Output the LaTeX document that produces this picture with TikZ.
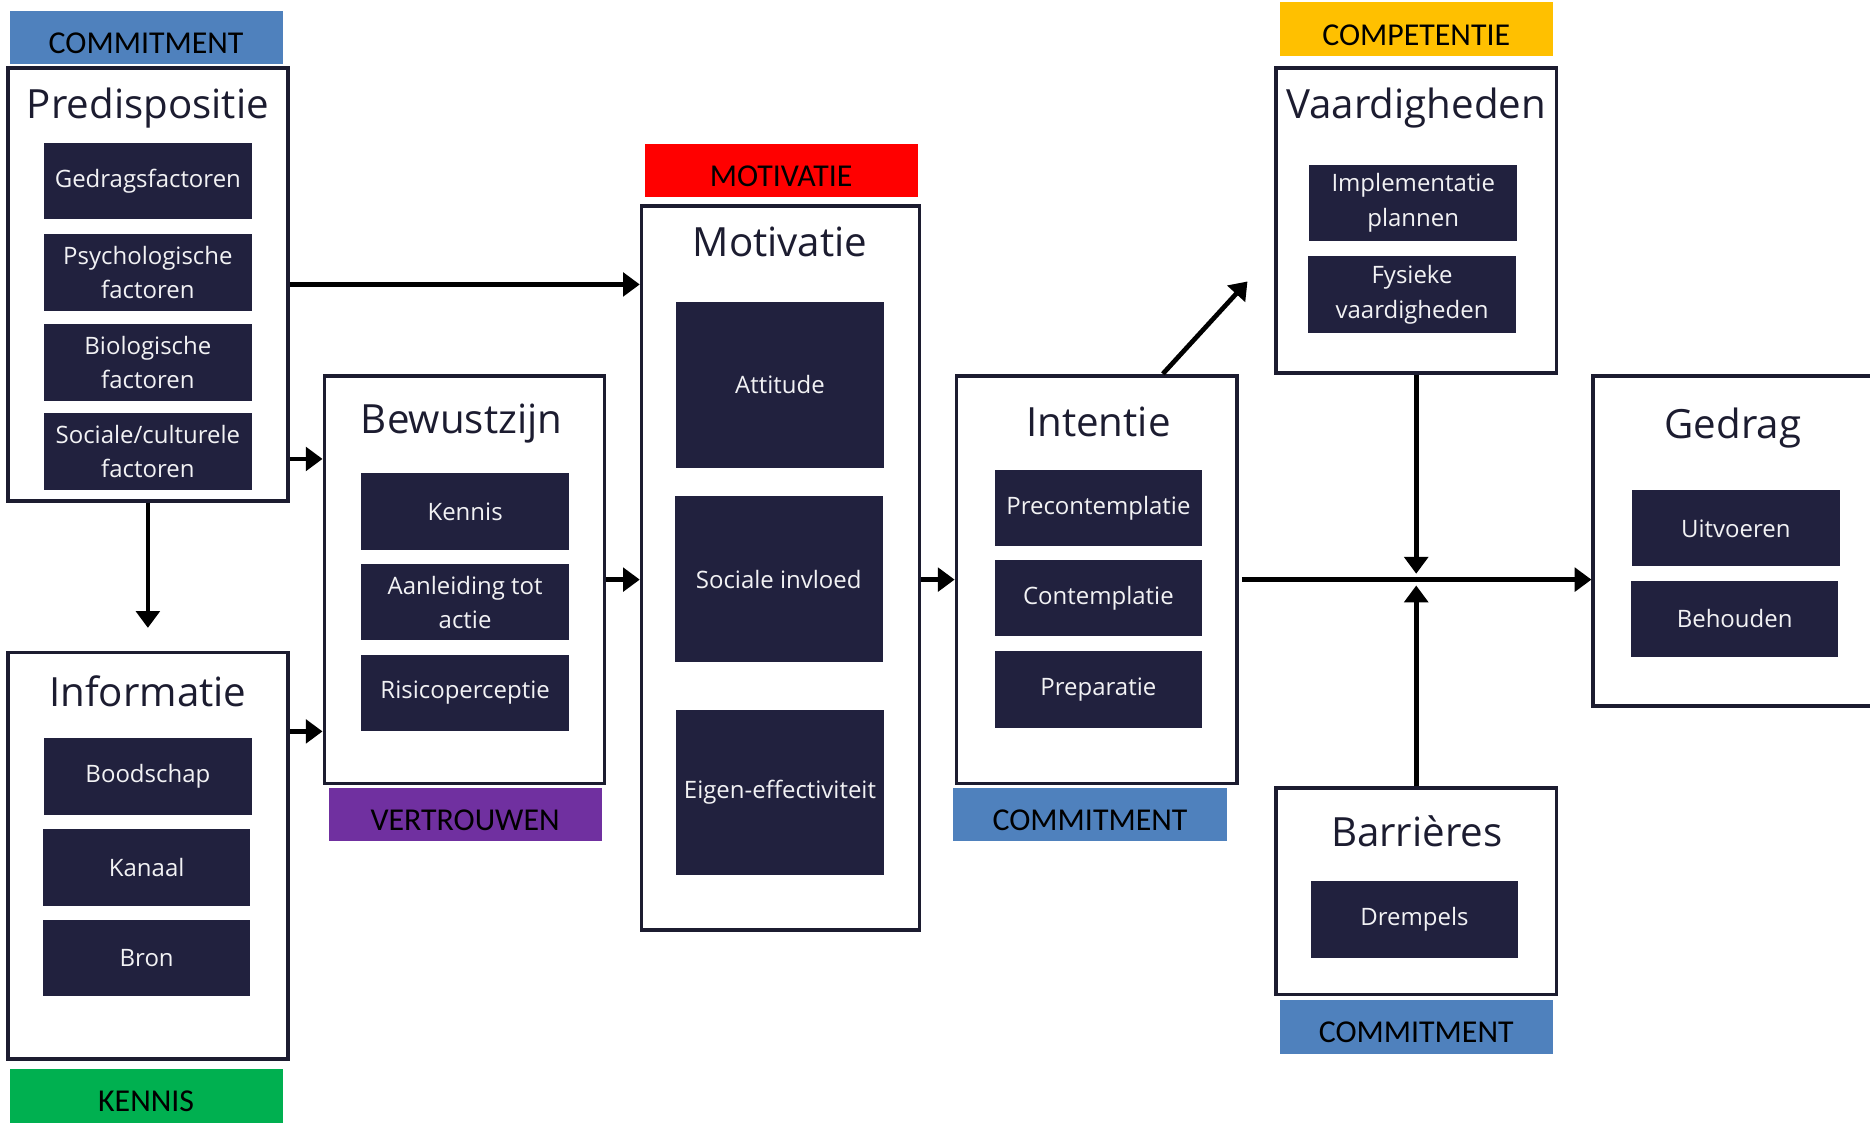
\documentclass[tikz,border=0pt]{standalone}
\usepackage{fontspec}
\setmainfont{Open Sans}
\newfontfamily\barfont{Carlito}
\usetikzlibrary{arrows.meta}
\definecolor{navy}{HTML}{21213E}
\definecolor{framec}{HTML}{1C1C30}
\definecolor{cblue}{HTML}{4F81BD}
\definecolor{cred}{HTML}{FF0000}
\definecolor{cpurple}{HTML}{7030A0}
\definecolor{cgreen}{HTML}{00B050}
\definecolor{corange}{HTML}{FFC000}
\newlength\px
\setlength\px{0.025cm}
\begin{document}
\begin{tikzpicture}[x=0.025cm,y=-0.025cm]
\tikzset{
  frame/.style={draw=framec,line width=2.2pt,fill=white,minimum width=235\px,inner sep=0pt},
  title/.style={font=\fontsize{24}{28}\selectfont,text=framec},
  item/.style={fill=navy,text=white!94!navy,minimum width=174\px,minimum height=64\px,
    align=center,inner sep=0pt,font=\fontsize{14.3}{20.5}\selectfont},
  tall/.style={item,minimum height=139\px},
  bar/.style={minimum width=229\px,minimum height=45\px,inner sep=0pt,
    text height=19pt,text depth=0pt,font=\barfont\fontsize{19}{20}\selectfont},
  arr/.style={line width=2.8pt,-{Triangle[length=10pt,width=14pt]}}
}
\useasboundingbox (0,0) rectangle (1568,943);
\fill[white] (0,0) rectangle (1568,943);

\node[frame,minimum height=363\px] (pred) at (124,238.5) {};
\node[title] at (124,91) {Predispositie};
\node[item] (gedrf) at (124,152) {Gedragsfactoren};
\node[item] (psych) at (124,228.5) {Psychologische\\factoren};
\node[item] (bio) at (124,304) {Biologische\\factoren};
\node[item] (soc) at (124,378.5) {Sociale/culturele\\factoren};
\node[bar,fill=cblue] (cpred) at (122.5,31.5) {COMMITMENT};

\node[frame,minimum height=341\px] (info) at (124,717.5) {};
\node[title] at (124,580) {Informatie};
\node[item] (bood) at (124,651) {Boodschap};
\node[item] (kan) at (123,727.5) {Kanaal};
\node[item] (bron) at (123,803) {Bron};
\node[bar,fill=cgreen] (kinfo) at (122.5,919) {KENNIS};

\node[frame,minimum height=342\px] (bew) at (389.5,486) {};
\node[title] at (387,355) {Bewustzijn};
\node[item] (kenn) at (390,429) {Kennis};
\node[item] (aanl) at (390,505) {Aanleiding tot\\actie};
\node[item] (risico) at (390,581) {Risicoperceptie};
\node[bar,fill=cpurple] (vbew) at (390,683) {VERTROUWEN};

\node[frame,minimum width=233\px,minimum height=607\px] (mot) at (654.5,476.5) {};
\node[title] at (654,203) {Motivatie};
\node[tall] (att) at (654,322.5) {Attitude};
\node[tall] (socinv) at (653,485.5) {Sociale invloed};
\node[tall] (eigen) at (654,664.5) {Eigen-effectiviteit};
\node[bar,fill=cred] (mmot) at (655,143) {MOTIVATIE};

\node[frame,minimum height=342\px] (int) at (919.5,486) {};
\node[title] at (921,354) {Intentie};
\node[item] (precon) at (921,426) {Precontemplatie};
\node[item] (con) at (921,501.5) {Contemplatie};
\node[item] (prep) at (921,578) {Preparatie};
\node[bar,fill=cblue] (cint) at (914,683) {COMMITMENT};

\node[frame,minimum height=256\px] (vaard) at (1187.5,185) {};
\node[title] at (1187.5,91) {Vaardigheden};
\node[item] (impl) at (1185,170) {Implementatie\\plannen};
\node[item] (fys) at (1184,247) {Fysieke\\vaardigheden};
\node[bar,fill=corange] (cvaard) at (1187.5,24.5) {COMPETENTIE};

\node[frame,minimum height=173\px] (barr) at (1187.5,747.5) {};
\node[title] at (1188,697) {Barrières};
\node[item] (drem) at (1186,771) {Drempels};
\node[bar,fill=cblue] (cbarr) at (1187.5,861) {COMMITMENT};

\node[frame,minimum width=236\px,minimum height=277\px] (ged) at (1454,453.5) {};
\node[title] at (1453,359) {Gedrag};
\node[item] (uitv) at (1455.5,443) {Uitvoeren};
\node[item] (beh) at (1454.5,519) {Behouden};

\coordinate (skill) at (1046,236);
\coordinate (meet) at (vaard.south |- int.east);
\draw[arr] (pred.east) -- (pred.east -| mot.west);
\draw[arr] ([yshift=-4.5pt]soc.east -| pred.east) -- ([yshift=-4.5pt]soc.east -| bew.west);
\draw[arr,shorten >=13.5pt] (pred.south) -- (info.north);
\draw[arr] (risico.south -| info.east) -- (risico.south -| bew.west);
\draw[arr] (bew.east) -- (bew.east -| mot.west);
\draw[arr] (mot.east |- int.west) -- (int.west);
\draw[arr] ([xshift=39.5pt]int.north) -- (skill);
\draw[arr] ([xshift=2pt]int.east) -- (int.east -| ged.west);
\draw[arr,shorten >=3.5pt] (vaard.south) -- (meet);
\draw[arr,shorten >=3.5pt] (barr.north) -- (meet);
\end{tikzpicture}
\end{document}
